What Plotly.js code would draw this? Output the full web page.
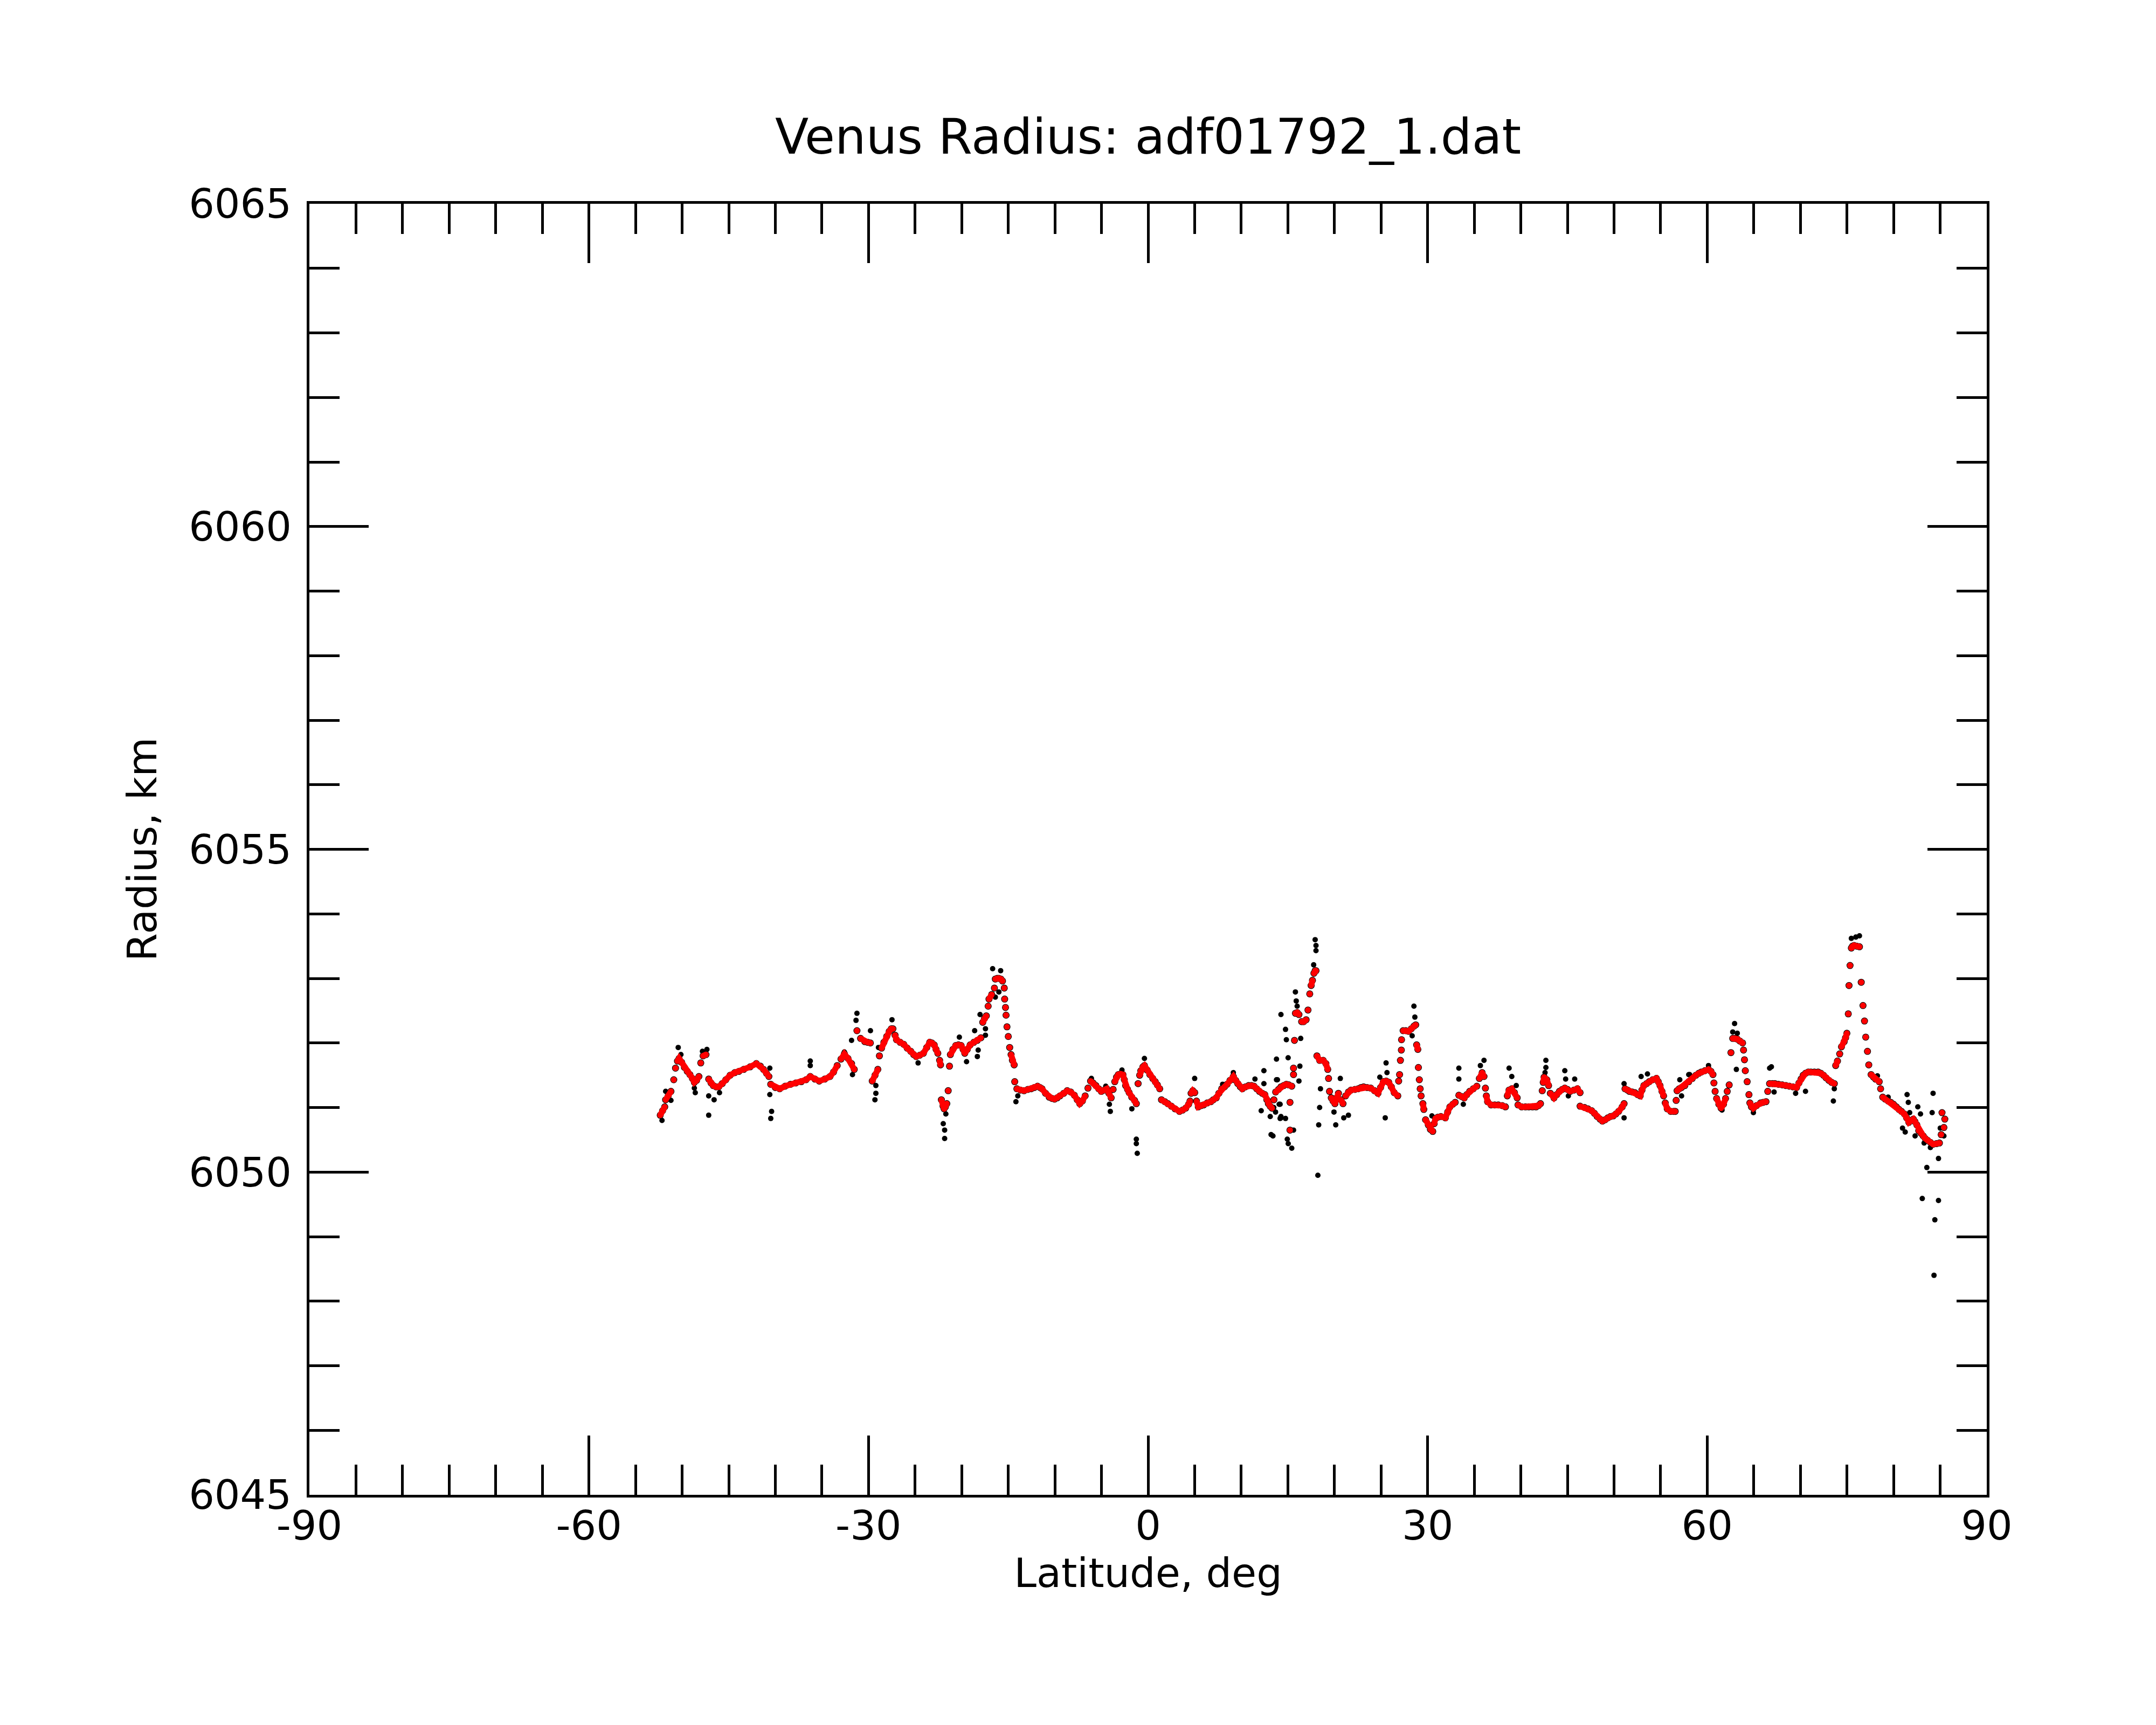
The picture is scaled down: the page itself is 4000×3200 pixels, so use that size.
<!DOCTYPE html>
<html>
<head>
<meta charset="utf-8">
<script src="https://cdn.plot.ly/plotly-3.0.1.min.js"></script>
<style>
  html, body { margin: 0; padding: 0; background: #fff; }
  #chart { width: 4000px; height: 3200px; }
</style>
</head>
<body>
<div id="chart"></div>
<script>
// smoothed profile (red)
var fitLat = [
  -52.35, -52.1, -51.87, -51.77, -51.5, -51.2, -50.9, -50.71, -50.5, -50.33, -50.05, -49.75, -49.45, -49.17, -48.9, -48.69, -48.45, -48.2, -48.0, -47.75, -47.44,
  -47.15, -46.9, -46.66, -46.35, -46.08, -45.7, -45.31, -44.85, -44.35, -43.9, -43.39, -42.7, -42.04, -41.6, -41.27, -40.95, -40.69,
  -40.49, -40.0, -39.53, -38.95, -38.37, -37.8, -37.22, -36.7, -36.25, -35.75, -35.29, -34.7, -34.13, -33.75, -33.36, -32.95, -32.59, -32.2, -31.82, -31.53,
  -31.24, -30.85, -30.4, -30.08, -29.8,
  -29.6, -29.3, -29.0, -28.83, -28.6, -28.35, -28.05, -27.77, -27.55, -27.38, -27.15, -27.0, -26.6, -26.23, -25.85, -25.46, -25.15, -24.88, -24.5, -24.11, -23.75, -23.43, -23.2, -22.95, -22.75, -22.56, -22.37, -22.27,
  -22.18, -22.0, -21.89, -21.75, -21.6, -21.45, -21.31, -21.21, -20.95, -20.64, -20.35, -20.06, -19.85, -19.67, -19.4, -19.09, -18.7, -18.32, -17.94,
  -17.74, -17.55, -17.36, -17.16, -17.07, -16.78, -16.49, -16.39, -16.2, -16.01, -15.8, -15.62, -15.43, -15.39, -15.3, -15.24, -15.14, -15.0, -14.85, -14.7, -14.56, -14.37,
  -14.31, -14.08, -13.7, -13.31, -12.9, -12.54, -12.2, -11.86, -11.6, -11.38, -11.0, -10.61, -10.3, -10.03, -9.75, -9.45, -9.05, -8.68, -8.3, -7.91, -7.6, -7.33, -7.05,
  -6.75, -6.45, -6.17, -5.9, -5.6, -5.3, -5.02, -4.7, -4.44, -4.2, -3.96, -3.75, -3.57, -3.38, -3.19, -2.95, -2.7, -2.55, -2.41, -2.2, -2.03, -1.75, -1.45, -1.26,
  -1.07, -0.9, -0.78, -0.55, -0.39, -0.1, 0.19, 0.5, 0.77, 1.0, 1.25, 1.44, 1.8, 2.12, 2.5, 2.89, 3.37, 3.7, 4.04, 4.35, 4.5, 4.62, 4.8, 5.01, 5.2, 5.39,
  5.7, 5.97, 6.35, 6.74, 7.0, 7.32, 7.6, 7.9, 8.2, 8.48, 8.8, 9.15, 9.4, 9.63, 9.9, 10.12, 10.45, 10.79, 11.1, 11.37, 11.65, 11.95, 12.25, 12.53, 12.75, 12.91,
  13.1, 13.3, 13.5, 13.69, 14.0, 14.26, 14.55, 14.84, 15.1, 15.42, 15.23, 15.23,
  15.61, 15.61, 15.71, 15.81, 16.0, 16.19, 16.48, 16.7, 16.96, 17.16, 17.35, 17.5, 17.64, 17.8, 17.93, 18.02,
  18.12, 18.41, 18.79, 19.08, 19.28, 19.37, 19.47, 19.66, 19.85, 20.05, 20.25, 20.43, 20.7, 20.92, 21.2, 21.5, 21.78, 22.2, 22.55, 22.85, 23.13, 23.5, 23.9,
  24.3, 24.67, 24.95, 25.25, 25.55, 25.83, 26.1, 26.41, 26.8, 26.89, 26.99, 27.08, 27.18, 27.2, 27.37, 27.65, 27.95, 28.25, 28.53, 28.72,
  28.82, 28.95, 29.01, 29.11, 29.2, 29.3, 29.49, 29.59, 29.78, 30.07, 30.3, 30.55, 30.7, 30.84, 31.1, 31.42, 31.9, 32.15, 32.39, 32.7, 32.96,
  33.35, 33.65, 33.93, 34.2, 34.51, 34.9, 35.28, 35.55, 35.85, 36.05, 36.2, 36.3, 36.43, 36.81, 37.2, 37.58, 38.0, 38.35, 38.55, 38.74, 39.03, 39.32, 39.61, 39.7,
  40.09, 40.5, 40.86, 41.25, 41.63, 41.9, 42.11, 42.3, 42.4, 42.5, 42.79, 42.98, 43.17, 43.56, 43.85, 44.14, 44.45, 44.72, 45.0, 45.29, 45.7, 46.07, 46.36,
  46.36, 46.84, 47.2, 47.61, 47.9, 48.19, 48.5, 48.76, 49.05, 49.34, 49.62, 49.92, 50.2, 50.5, 50.88, 51.08, 51.18, 51.45, 51.66, 51.95, 52.24, 52.55, 52.81,
  53.0, 53.2, 53.5, 53.78, 54.15, 54.55, 54.75, 54.94, 55.15, 55.32, 55.5, 55.71, 56.09, 56.4, 56.57, 56.67, 56.77, 57.0, 57.25, 57.6, 58.02, 58.4, 58.79,
  59.1, 59.37, 59.75, 60.14, 60.4, 60.62, 60.72, 60.85, 61.01, 61.25, 61.49, 61.75, 61.97, 62.15, 62.36,
  62.55, 62.74, 63.0, 63.23, 63.5, 63.8, 63.9, 64.0, 64.09, 64.29, 64.48, 64.58, 64.75, 64.96, 65.3, 65.73, 66.0, 66.31, 66.5, 66.7, 67.0, 67.27, 67.65,
  68.05, 68.45, 68.82, 69.2, 69.59, 69.85, 70.07, 70.3, 70.55, 70.85, 71.13, 71.5, 71.9, 72.2, 72.48, 72.75, 73.06, 73.35, 73.64,
  73.79, 73.98, 74.22, 74.41, 74.7, 74.85, 74.99, 75.14, 75.22, 75.33, 75.47, 75.6, 75.76, 76.05, 76.34, 76.53, 76.72, 76.88, 77.01, 77.2, 77.34, 77.59,
  77.85, 78.07, 78.46, 78.61, 78.84, 79.1, 79.42, 79.7, 80.0, 80.3, 80.58, 80.85, 81.16, 81.4, 81.64, 81.9, 82.12, 82.3, 82.5, 82.7, 82.95, 83.18, 83.4,
  83.66, 83.95, 84.24, 84.6, 84.92, 85.11, 85.4, 85.5, 85.2
];
var fitRad = [
  6050.88, 6050.95, 6051.01, 6051.12, 6051.18, 6051.25, 6051.43, 6051.61, 6051.72, 6051.76, 6051.70, 6051.62, 6051.56, 6051.51, 6051.45, 6051.39, 6051.42, 6051.48, 6051.69, 6051.80, 6051.82,
  6051.44, 6051.38, 6051.34, 6051.32, 6051.32, 6051.37, 6051.43, 6051.50, 6051.54, 6051.56, 6051.59, 6051.63, 6051.68, 6051.64, 6051.59, 6051.53, 6051.48,
  6051.36, 6051.31, 6051.29, 6051.33, 6051.36, 6051.38, 6051.40, 6051.43, 6051.48, 6051.44, 6051.41, 6051.44, 6051.48, 6051.55, 6051.65, 6051.75, 6051.83, 6051.76, 6051.68, 6051.59,
  6052.19, 6052.07, 6052.02, 6052.01, 6052.00,
  6051.41, 6051.50, 6051.59, 6051.80, 6051.92, 6052.01, 6052.10, 6052.18, 6052.22, 6052.22, 6052.12, 6052.05, 6052.01, 6051.98, 6051.92, 6051.87, 6051.82, 6051.79, 6051.81, 6051.84, 6051.93, 6052.01, 6052.00, 6051.97, 6051.90, 6051.84, 6051.73, 6051.66,
  6051.12, 6051.02, 6050.98, 6051.01, 6051.06, 6051.26, 6051.64, 6051.82, 6051.90, 6051.96, 6051.97, 6051.96, 6051.90, 6051.84, 6051.90, 6051.97, 6052.01, 6052.04, 6052.08,
  6052.32, 6052.38, 6052.42, 6052.57, 6052.68, 6052.75, 6052.85, 6052.99, 6053.00, 6053.00, 6052.99, 6052.96, 6052.85, 6052.68, 6052.55, 6052.43, 6052.25, 6052.10, 6051.93, 6051.82, 6051.73, 6051.66,
  6051.40, 6051.29, 6051.27, 6051.26, 6051.28, 6051.29, 6051.31, 6051.33, 6051.31, 6051.29, 6051.22, 6051.16, 6051.14, 6051.13, 6051.15, 6051.18, 6051.22, 6051.26, 6051.24, 6051.19, 6051.12, 6051.06, 6051.10,
  6051.18, 6051.30, 6051.41, 6051.38, 6051.34, 6051.29, 6051.25, 6051.27, 6051.29, 6051.22, 6051.15, 6051.28, 6051.40, 6051.47, 6051.51, 6051.52, 6051.51, 6051.43, 6051.34, 6051.28, 6051.23, 6051.16, 6051.11, 6051.06,
  6051.37, 6051.50, 6051.57, 6051.63, 6051.65, 6051.58, 6051.51, 6051.45, 6051.40, 6051.35, 6051.29, 6051.12, 6051.09, 6051.06, 6051.02, 6050.98, 6050.94, 6050.96, 6050.99, 6051.05, 6051.10, 6051.22, 6051.26, 6051.23, 6051.10, 6051.01,
  6051.03, 6051.04, 6051.07, 6051.09, 6051.12, 6051.15, 6051.22, 6051.29, 6051.32, 6051.36, 6051.42, 6051.48, 6051.42, 6051.37, 6051.32, 6051.29, 6051.32, 6051.34, 6051.34, 6051.33, 6051.29, 6051.25, 6051.22, 6051.20, 6051.12, 6051.06,
  6051.02, 6050.99, 6051.12, 6051.24, 6051.28, 6051.32, 6051.34, 6051.36, 6051.35, 6051.33, 6051.08, 6050.65,
  6051.51, 6051.61, 6052.04, 6052.46, 6052.47, 6052.44, 6052.33, 6052.33, 6052.36, 6052.51, 6052.76, 6052.89, 6052.97, 6053.08, 6053.12, 6053.12,
  6051.80, 6051.73, 6051.73, 6051.68, 6051.59, 6051.45, 6051.25, 6051.15, 6051.10, 6051.06, 6051.15, 6051.22, 6051.12, 6051.06, 6051.18, 6051.24, 6051.27, 6051.28, 6051.29, 6051.31, 6051.32, 6051.31, 6051.30,
  6051.26, 6051.22, 6051.31, 6051.40, 6051.41, 6051.39, 6051.32, 6051.23, 6051.18, 6051.41, 6051.51, 6051.73, 6051.89, 6052.05, 6052.19, 6052.19, 6052.18, 6052.22, 6052.26, 6052.28,
  6051.97, 6051.90, 6051.62, 6051.43, 6051.29, 6051.18, 6051.06, 6050.97, 6050.81, 6050.73, 6050.66, 6050.63, 6050.75, 6050.83, 6050.85, 6050.86, 6050.84, 6050.93, 6051.01, 6051.05, 6051.08,
  6051.19, 6051.17, 6051.15, 6051.20, 6051.25, 6051.29, 6051.33, 6051.45, 6051.54, 6051.48, 6051.30, 6051.18, 6051.09, 6051.04, 6051.04, 6051.04, 6051.03, 6051.01, 6051.18, 6051.27, 6051.29, 6051.23, 6051.15, 6051.04,
  6051.01, 6051.01, 6051.01, 6051.01, 6051.01, 6051.03, 6051.06, 6051.26, 6051.39, 6051.47, 6051.43, 6051.34, 6051.22, 6051.15, 6051.20, 6051.25, 6051.28, 6051.30, 6051.28, 6051.25, 6051.27, 6051.29, 6051.23,
  6051.02, 6051.00, 6050.98, 6050.95, 6050.91, 6050.86, 6050.82, 6050.79, 6050.81, 6050.84, 6050.86, 6050.87, 6050.90, 6050.94, 6051.01, 6051.06, 6051.29, 6051.27, 6051.25, 6051.24, 6051.23, 6051.20, 6051.18,
  6051.27, 6051.34, 6051.37, 6051.40, 6051.43, 6051.45, 6051.40, 6051.34, 6051.25, 6051.18, 6051.07, 6050.98, 6050.94, 6050.94, 6050.94, 6051.11, 6051.26, 6051.29, 6051.31, 6051.34, 6051.40, 6051.45, 6051.50,
  6051.53, 6051.55, 6051.57, 6051.59, 6051.56, 6051.51, 6051.38, 6051.25, 6051.14, 6051.05, 6050.99, 6051.05, 6051.14, 6051.25, 6051.35,
  6051.85, 6052.07, 6052.07, 6052.06, 6052.03, 6052.00, 6051.89, 6051.74, 6051.57, 6051.40, 6051.20, 6051.07, 6051.01, 6050.99, 6051.03, 6051.07, 6051.08, 6051.09, 6051.25, 6051.37, 6051.37, 6051.37, 6051.36,
  6051.35, 6051.34, 6051.33, 6051.32, 6051.31, 6051.38, 6051.44, 6051.50, 6051.53, 6051.55, 6051.55, 6051.55, 6051.55, 6051.53, 6051.50, 6051.46, 6051.42, 6051.39, 6051.37,
  6051.65, 6051.72, 6051.83, 6051.94, 6052.02, 6052.08, 6052.15, 6052.45, 6052.89, 6053.20, 6053.47, 6053.50, 6053.51, 6053.50, 6053.49, 6052.94, 6052.58, 6052.34, 6052.09, 6051.87, 6051.66, 6051.51,
  6051.47, 6051.44, 6051.40, 6051.29, 6051.16, 6051.13, 6051.10, 6051.08, 6051.05, 6051.01, 6050.97, 6050.94, 6050.90, 6050.84, 6050.77, 6050.80, 6050.82, 6050.78, 6050.73, 6050.64, 6050.60, 6050.56, 6050.52,
  6050.49, 6050.46, 6050.43, 6050.44, 6050.45, 6050.58, 6050.69, 6050.82, 6050.92
];

// raw samples lying off the smoothed profile (black)
var rawLat = [
  -52.16, -51.77, -51.2, -50.42, -50.13, -48.59, -48.69, -47.82, -47.34, -47.15, -46.57, -47.15, -45.99,
  -40.59, -40.59, -40.4, -40.49, -36.25, -36.25, -31.24, -31.34, -31.82, -29.79, -31.72, -32.59,
  -28.93, -29.21, -29.21, -29.31, -27.48, -24.68, -21.7, -21.98, -21.83, -21.83, -20.25, -19.48, -18.61, -18.23, -18.32, -18.03,
  -17.45, -17.45, -16.68, -15.82, -16.01, -16.39, -14.18, -13.98,
  -4.05, -4.15, -1.26, -1.26, -1.16, -0.39, 5.0, -1.74, -6.08, -2.8, -4.54, 8.0, 9.15, 11.47, 12.43, 12.43, 12.14, 13.11, 13.2, 14.17, 13.68, 13.78, 14.07, 14.26,
  17.93, 18.02, 18.02, 17.77, 15.81, 15.9, 16.0, 14.26, 14.75, 14.84, 16.38, 13.78, 15.03, 16.29, 13.88, 16.19, 18.5, 18.41, 18.31, 18.22,
  20.14, 19.95, 21.0, 21.5, 20.63, 14.17, 13.49, 14.26, 14.75, 13.4, 14.94, 15.04, 15.42, 15.61,
  25.54, 25.64, 25.45, 24.87, 28.53, 28.63, 28.34, 33.35, 33.35, 36.05, 35.66, 33.83, 30.46,
  38.74, 39.03, 39.51, 42.69, 42.69, 42.6, 44.72, 44.81, 45.78, 45.1, 51.08, 51.08, 53.59, 52.91, 58.02, 57.06, 57.25,
  84.24, 84.14, 84.82, 83.57, 83.08, 84.82, 84.43, 84.34, 81.45, 81.58, 81.73, 82.6, 82.89, 81.25, 82.31, 83.28, 83.95, 85.4, 85.01,
  75.95, 76.34, 75.47, 62.94, 62.74, 63.23, 63.13, 66.7, 66.89, 67.18, 69.49, 70.55, 73.54, 73.64, 78.27, 79.42, 80.96, 61.59, 64.96, 58.12, 60.14
];
var rawRad = [
  6050.80, 6051.25, 6051.11, 6051.93, 6051.82, 6051.23, 6051.30, 6051.87, 6051.90, 6051.18, 6051.12, 6050.88, 6051.23,
  6051.61, 6051.20, 6050.94, 6050.83, 6051.72, 6051.65, 6052.46, 6052.35, 6052.04, 6052.19, 6051.51, 6051.86,
  6051.93, 6051.34, 6051.22, 6051.12, 6052.36, 6051.69, 6050.90, 6050.75, 6050.65, 6050.52, 6052.09, 6051.71, 6052.19, 6051.89, 6051.79, 6052.44,
  6052.22, 6052.12, 6053.15, 6053.12, 6052.79, 6052.71, 6051.09, 6051.18,
  6050.94, 6051.05, 6050.51, 6050.44, 6050.29, 6051.76, 6051.45, 6050.98, 6051.45, 6051.58, 6051.33, 6051.36, 6051.54, 6051.44, 6051.57, 6051.37, 6050.95, 6050.86, 6050.58, 6050.83, 6050.93, 6051.43, 6051.05, 6050.86,
  6053.60, 6053.51, 6053.43, 6053.21, 6052.79, 6052.65, 6052.57, 6052.44, 6052.21, 6052.05, 6052.07, 6051.75, 6051.77, 6051.64, 6051.43, 6051.41, 6051.29, 6051.00, 6050.73, 6049.95,
  6050.73, 6050.93, 6050.84, 6050.88, 6051.45, 6051.05, 6051.00, 6050.84, 6050.83, 6050.56, 6050.51, 6050.44, 6050.37, 6050.65,
  6051.69, 6051.54, 6050.84, 6051.47, 6052.57, 6052.40, 6052.11, 6051.61, 6051.44, 6051.73, 6051.65, 6051.05, 6050.87,
  6051.61, 6051.48, 6051.34, 6051.73, 6051.62, 6051.54, 6051.57, 6051.44, 6051.44, 6051.18, 6050.84, 6051.37, 6051.52, 6051.48, 6051.51, 6051.43, 6051.18,
  6051.22, 6050.92, 6050.21, 6050.07, 6049.59, 6049.56, 6049.26, 6048.40, 6051.20, 6051.08, 6050.92, 6051.01, 6050.90, 6050.62, 6050.56, 6050.45, 6050.38, 6050.56, 6050.68,
  6053.64, 6053.66, 6053.62, 6052.30, 6052.17, 6052.15, 6051.59, 6051.61, 6051.63, 6051.24, 6051.22, 6051.25, 6051.10, 6051.29, 6051.49, 6051.16, 6050.68, 6050.96, 6050.92, 6051.51, 6051.65
];

var xTicks = [-90, -60, -30, 0, 30, 60, 90];
var xTickText = ['-90', '-60', '-30', '0', '30', '60', '90'];
var yTicks = [6045, 6050, 6055, 6060, 6065];

var font = 'DejaVu Sans, Arial, sans-serif';

// the fit is drawn as a band where samples are dense; break it where it steps
// steeply so that the separate samples show as dots, as in the original plot
var bandX = [], bandY = [];
for (var i = 0; i < fitLat.length; i++) {
  if (i > 0) {
    var dLat = fitLat[i] - fitLat[i - 1];
    var dRad = Math.abs(fitRad[i] - fitRad[i - 1]);
    if (dLat <= 0 || dLat > 0.7 || dRad > 0.1) { bandX.push(null); bandY.push(null); }
  }
  bandX.push(fitLat[i]); bandY.push(fitRad[i]);
}

// raw samples sitting under the fit leave a dark edge
var rimDots = {
  x: fitLat, y: fitRad, type: 'scatter', mode: 'markers',
  marker: { color: '#000000', size: 13 },
  hoverinfo: 'skip', showlegend: false
};
var raw = {
  x: rawLat, y: rawRad, type: 'scatter', mode: 'markers',
  marker: { color: '#000000', size: 10 },
  showlegend: false
};
var fitBand = {
  x: bandX, y: bandY, type: 'scatter', mode: 'lines',
  line: { color: '#ff0000', width: 11 }, connectgaps: false,
  hoverinfo: 'skip', showlegend: false
};
var fit = {
  x: fitLat, y: fitRad, type: 'scatter', mode: 'markers',
  marker: { color: '#ff0000', size: 11 },
  showlegend: false
};

var axisStyle = {
  showgrid: false, zeroline: false,
  showline: true, linecolor: '#000', linewidth: 5, mirror: 'allticks',
  ticks: 'inside', ticklen: 110, tickwidth: 5, tickcolor: '#000',
  tickfont: { family: font, size: 75, color: '#000' }
};

var layout = {
  width: 4000, height: 3200,
  margin: { l: 574, r: 314, t: 378, b: 427 },
  paper_bgcolor: '#fff', plot_bgcolor: '#fff',
  title: {
    text: 'Venus Radius: adf01792_1.dat',
    font: { family: font, size: 91, color: '#000' },
    x: 0.5, xref: 'paper', xanchor: 'center',
    y: 0.921, yref: 'container', yanchor: 'middle'
  },
  xaxis: Object.assign({}, axisStyle, {
    range: [-90, 90], tickmode: 'array', tickvals: xTicks, ticktext: xTickText,
    ticklabelstandoff: -12,
    minor: { dtick: 5, tick0: -90, ticks: 'inside', ticklen: 56, tickwidth: 5, tickcolor: '#000' },
    title: { text: 'Latitude, deg', font: { family: font, size: 75, color: '#000' }, standoff: 0 }
  }),
  yaxis: Object.assign({}, axisStyle, {
    range: [6045, 6065], tickmode: 'array', tickvals: yTicks,
    ticklabelstandoff: 13,
    minor: { dtick: 1, tick0: 6045, ticks: 'inside', ticklen: 56, tickwidth: 5, tickcolor: '#000' },
    title: { text: 'Radius, km', font: { family: font, size: 75, color: '#000' }, standoff: 36 }
  })
};

Plotly.newPlot('chart', [rimDots, raw, fitBand, fit], layout, { staticPlot: true });
</script>
</body>
</html>
